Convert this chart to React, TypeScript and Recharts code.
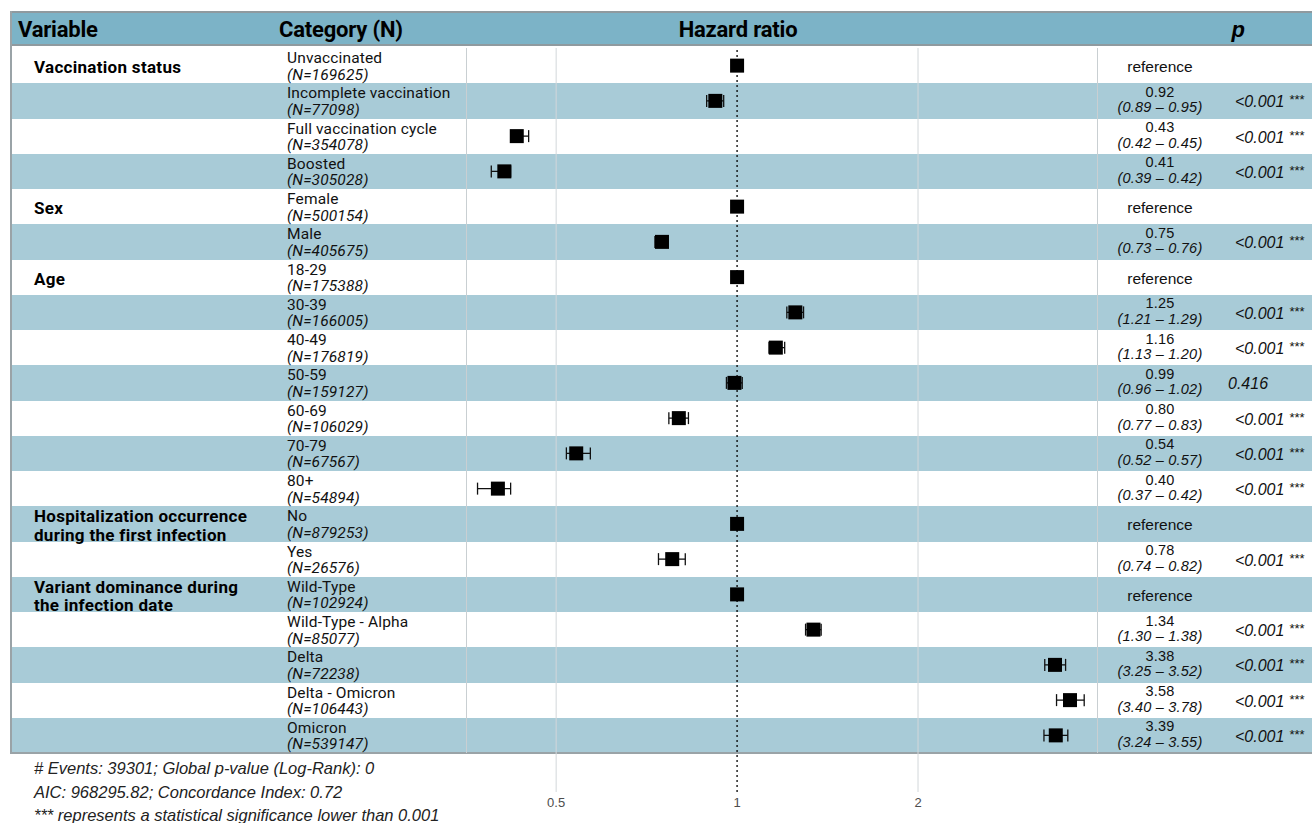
import React from 'react';
import {
  ScatterChart,
  Scatter,
  XAxis,
  YAxis,
  ReferenceLine,
  ErrorBar
} from 'recharts';

const categories = [
  'Unvaccinated', 'Incomplete vaccination', 'Full vaccination cycle', 'Boosted',
  'Female', 'Male',
  '18-29', '30-39', '40-49', '50-59', '60-69', '70-79', '80+',
  'No', 'Yes',
  'Wild-Type', 'Wild-Type - Alpha', 'Delta', 'Delta - Omicron', 'Omicron',
];
const counts = [
  169625, 77098, 354078, 305028,
  500154, 405675,
  175388, 166005, 176819, 159127, 106029, 67567, 54894,
  879253, 26576,
  102924, 85077, 72238, 106443, 539147,
];
const variableRows = [0, 4, 6, 13, 15];
const variableLabels = [
  ['Vaccination status'],
  ['Sex'],
  ['Age'],
  ['Hospitalization occurrence', 'during the first infection'],
  ['Variant dominance during', 'the infection date'],
];
const hazard = [1, 0.92, 0.43, 0.41, 1, 0.75, 1, 1.25, 1.16, 0.99, 0.80, 0.54, 0.40, 1, 0.78, 1, 1.34, 3.38, 3.58, 3.39];
const lower = [null, 0.89, 0.42, 0.39, null, 0.73, null, 1.21, 1.13, 0.96, 0.77, 0.52, 0.37, null, 0.74, null, 1.30, 3.25, 3.40, 3.24];
const upper = [null, 0.95, 0.45, 0.42, null, 0.76, null, 1.29, 1.20, 1.02, 0.83, 0.57, 0.42, null, 0.82, null, 1.38, 3.52, 3.78, 3.55];
const pValues = ['', '<0.001', '<0.001', '<0.001', '', '<0.001', '', '<0.001', '<0.001', '0.416', '<0.001', '<0.001', '<0.001', '', '<0.001', '', '<0.001', '<0.001', '<0.001', '<0.001'];
const stars = ['', '***', '***', '***', '', '***', '', '***', '***', '', '***', '***', '***', '', '***', '', '***', '***', '***', '***'];
const xTicks = [0.5, 1, 2];
const gridTicks = [0.5, 2];
const footerLines = [
  '# Events: 39301; Global p-value (Log-Rank): 0',
  'AIC: 968295.82; Concordance Index: 0.72',
  '*** represents a statistical significance lower than 0.001',
];

const ROW_TOP = 48;
const ROW_H = 35.25;
const N_ROWS = categories.length;
const rowTop = (i: number) => ROW_TOP + ROW_H * i;

const HEADER = '#7cb3c7';
const STRIPE = '#a8cbd7';
const sans = 'Roboto, "Liberation Sans", sans-serif';
const arial = '"Liberation Sans", Arial, sans-serif';

const estimates = hazard
  .map((hr, i) => ({ row: i, hr, lo: lower[i], hi: upper[i] }))
  .filter((d) => d.lo !== null)
  .map((d) => ({ row: d.row, hr: d.hr, err: [d.hr - (d.lo as number), (d.hi as number) - d.hr] }));
const references = hazard
  .map((hr, i) => ({ row: i, hr, lo: lower[i] }))
  .filter((d) => d.lo === null)
  .map((d) => ({ row: d.row, hr: d.hr }));

const Square = (props: any) => {
  const { cx, cy } = props;
  return <rect x={cx - 7} y={cy - 7} width={14} height={14} fill="#000" />;
};

export default function App() {
  const plotBottom = 792;
  const extraRows = (plotBottom - rowTop(N_ROWS)) / ROW_H;
  const headerText: React.CSSProperties = { position: 'absolute', top: 13, height: 33, lineHeight: '33px', fontFamily: sans, fontWeight: 700, fontSize: 22, letterSpacing: -0.2, color: '#000' };

  return (
    <div style={{ position: 'absolute', left: 0, top: 0, width: 1312, height: 823, background: '#fff', overflow: 'hidden' }}>
      {/* header band */}
      <div style={{ position: 'absolute', left: 10, top: 11, width: 1302, height: 35, background: HEADER, borderTop: '2px solid #8f9a9f', borderBottom: '2px solid #8f9a9f', boxSizing: 'border-box' }} />
      {/* stripes */}
      {categories.map((_, i) => (
        <div key={'s' + i} style={{ position: 'absolute', left: 10, top: rowTop(i), width: 1302, height: ROW_H, background: i % 2 === 1 ? STRIPE : '#fff' }} />
      ))}
      {/* table borders */}
      <div style={{ position: 'absolute', left: 10, top: 11, width: 1.5, height: rowTop(N_ROWS) - 11, background: '#9aa3a7' }} />
      <div style={{ position: 'absolute', left: 10, top: rowTop(N_ROWS) - 1, width: 1302, height: 2, background: '#9aa3a7' }} />
      <div style={{ position: 'absolute', left: 466, top: ROW_TOP, width: 1, height: rowTop(N_ROWS) - ROW_TOP, background: '#c9cfd2' }} />
      <div style={{ position: 'absolute', left: 1097, top: ROW_TOP, width: 1, height: rowTop(N_ROWS) - ROW_TOP, background: '#c9cfd2' }} />

      <div style={{ position: 'absolute', left: 0, top: 0 }}>
        <ScatterChart width={1312} height={823} margin={{ top: ROW_TOP, right: 215, bottom: 1, left: 466 }}>
          <XAxis
            dataKey="hr"
            type="number"
            scale="log"
            domain={[0.354, 3.97]}
            allowDataOverflow
            ticks={xTicks}
            height={30}
            tickLine={false}
            axisLine={false}
            tickSize={0}
            tickMargin={6}
            tick={{ fill: '#4d4d4d', fontSize: 13, fontFamily: arial }}
          />
          <YAxis dataKey="row" type="number" domain={[-0.5, N_ROWS - 0.5 + extraRows]} reversed hide />
          {gridTicks.map((t) => (
            <ReferenceLine key={t} x={t} stroke="#d2d7da" strokeWidth={1} />
          ))}
          <ReferenceLine x={1} stroke="#000" strokeDasharray="2 3" strokeWidth={1.3} />
          <Scatter data={estimates} shape={Square} isAnimationActive={false}>
            <ErrorBar dataKey="err" direction="x" width={6} stroke="#111" strokeWidth={1.3} />
          </Scatter>
          <Scatter data={references} shape={Square} isAnimationActive={false} />
        </ScatterChart>
      </div>

      {/* header text */}
      <div style={{ ...headerText, left: 18 }}>Variable</div>
      <div style={{ ...headerText, left: 279 }}>Category (N)</div>
      <div style={{ ...headerText, left: 638, width: 200, textAlign: 'center' }}>Hazard ratio</div>
      <div style={{ ...headerText, left: 1218, width: 40, textAlign: 'center', fontFamily: arial, fontStyle: 'italic' }}>p</div>

      {/* variable column */}
      {variableRows.map((r, k) => (
        <div key={'v' + k} style={{ position: 'absolute', left: 34, top: rowTop(r) + 2, height: ROW_H, display: 'flex', flexDirection: 'column', justifyContent: 'center', fontFamily: sans, fontWeight: 700, fontSize: 17, lineHeight: '18.5px', letterSpacing: 0.3, color: '#000' }}>
          {variableLabels[k].map((l, j) => <div key={j}>{l}</div>)}
        </div>
      ))}

      {/* category column */}
      {categories.map((c, i) => (
        <div key={'c' + i} style={{ position: 'absolute', left: 287, top: rowTop(i) + 2, fontFamily: sans, fontSize: 15.5, lineHeight: '16.5px', letterSpacing: 0.15, color: '#111' }}>
          <div>{c}</div>
          <div style={{ fontStyle: 'italic' }}>(N={counts[i]})</div>
        </div>
      ))}

      {/* estimate column */}
      {hazard.map((hr, i) => (
        lower[i] === null ? (
          <div key={'e' + i} style={{ position: 'absolute', left: 1100, width: 120, textAlign: 'center', top: rowTop(i) + 1, height: ROW_H, lineHeight: ROW_H + 'px', fontFamily: arial, fontSize: 15.5, color: '#111' }}>reference</div>
        ) : (
          <div key={'e' + i} style={{ position: 'absolute', left: 1100, width: 120, textAlign: 'center', top: rowTop(i) + 1.5, fontFamily: arial, fontSize: 14.5, lineHeight: '15.5px', letterSpacing: 0.2, color: '#111' }}>
            <div>{hr.toFixed(2)}</div>
            <div style={{ fontStyle: 'italic' }}>({(lower[i] as number).toFixed(2)} – {(upper[i] as number).toFixed(2)})</div>
          </div>
        )
      ))}

      {/* p column */}
      {pValues.map((p, i) => p === '' ? null : (
        <div key={'p' + i} style={{ position: 'absolute', left: stars[i] ? 1235 : 1228, top: rowTop(i) + 1, height: ROW_H, lineHeight: ROW_H + 'px', fontFamily: arial, fontSize: 16, fontStyle: 'italic', color: '#111', whiteSpace: 'nowrap' }}>
          {p}{stars[i] ? <span style={{ fontStyle: 'normal', fontSize: 13, marginLeft: 5, position: 'relative', top: -3 }}>{stars[i]}</span> : null}
        </div>
      ))}

      {/* footer */}
      {footerLines.map((l, i) => (
        <div key={'f' + i} style={{ position: 'absolute', left: 34, top: 758 + i * 23.5, lineHeight: '20px', fontFamily: arial, fontSize: 16.5, fontStyle: 'italic', color: '#222' }}>{l}</div>
      ))}
    </div>
  );
}
